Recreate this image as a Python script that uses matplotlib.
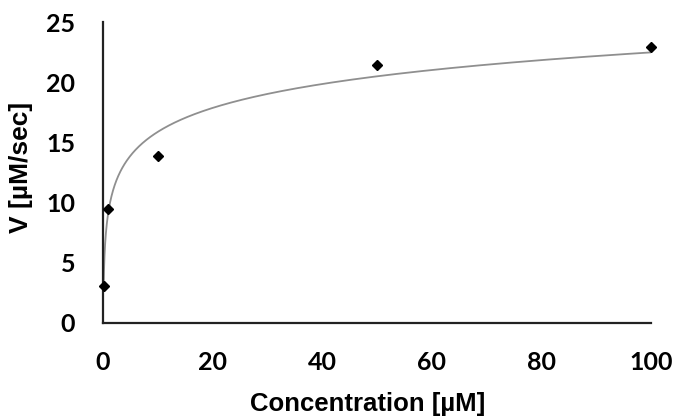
import numpy as np
import matplotlib
matplotlib.use("Agg")
import matplotlib.pyplot as plt

# Donnees
concentration = [0.1, 1, 10, 50, 100]    # (uM)
vitesse = [3.1, 9.5, 13.9, 21.4, 22.9]   # (uM/sec)
x_ticks = [0, 20, 40, 60, 80, 100]
y_ticks = [0, 5, 10, 15, 20, 25]

# Courbe de tendance logarithmique (comme Excel) : V = a*ln(C) + b
a, b = np.polyfit(np.log(concentration), vitesse, 1)
c_fit = np.geomspace(min(concentration), max(concentration), 500)
v_fit = a * np.log(c_fit) + b

fig = plt.figure(figsize=(6.73, 4.17), dpi=100)
ax = fig.add_axes([103 / 673, 1 - 323 / 417, 548 / 673, 301 / 417])

ax.plot(c_fit, v_fit, color="#8f8f8f", linewidth=1.3, zorder=2)
ax.plot(concentration, vitesse, linestyle="none", marker="D",
        markersize=5.5, color="black", zorder=3, clip_on=False)

ax.set_xlim(0, 100)
ax.set_ylim(0, 25)
ax.set_xticks(x_ticks)
ax.set_yticks(y_ticks)
ax.tick_params(length=0)
ax.tick_params(axis="x", pad=20)
ax.tick_params(axis="y", pad=20)
for lab in ax.get_xticklabels() + ax.get_yticklabels():
    lab.set_fontfamily("Lato")
    lab.set_fontweight("bold")
    lab.set_fontsize(18)
    lab.set_color("black")

for side in ["top", "right"]:
    ax.spines[side].set_visible(False)
for side in ["left", "bottom"]:
    ax.spines[side].set_linewidth(1.6)
    ax.spines[side].set_color("#222222")

ax.set_xlabel("Concentration [µM]", fontsize=18.5, fontweight="bold",
              family="Liberation Sans", color="black", va="center")
ax.xaxis.set_label_coords(0.483, -0.269)
ax.set_ylabel("V [µM/sec]", fontsize=19, fontweight="bold",
              family="Liberation Sans", color="black", va="center")
ax.yaxis.set_label_coords(-0.15, 0.518)

fig.savefig("out.png", dpi=100)
